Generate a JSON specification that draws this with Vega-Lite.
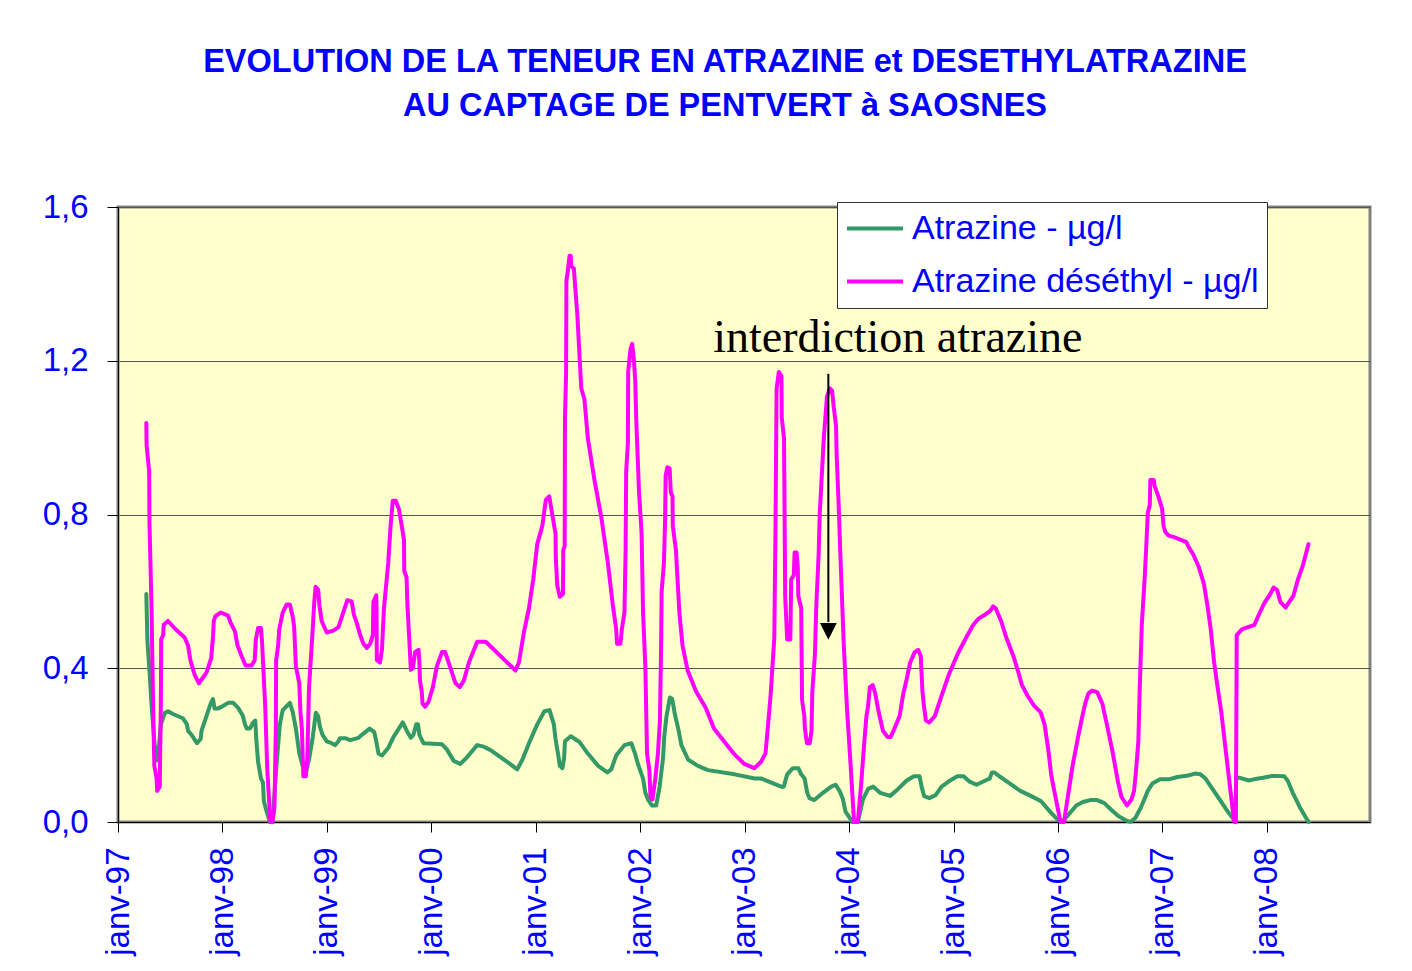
{
  "$schema": "https://vega.github.io/schema/vega-lite/v6.json",
  "width": 1252,
  "height": 615,
  "autosize": {"type": "none"},
  "padding": {"left": 118, "top": 207, "right": 42, "bottom": 149},
  "background": "white",
  "config": {
    "font": "Liberation Sans",
    "view": {"fill": "#FFFFCC", "stroke": "#808080", "strokeWidth": 3},
    "legend": {"strokeWidth": 1}
  },
  "title": {
    "text": ["EVOLUTION DE LA TENEUR EN ATRAZINE et DESETHYLATRAZINE", "AU CAPTAGE DE PENTVERT à SAOSNES"],
    "font": "Liberation Sans",
    "fontSize": 32.5,
    "fontWeight": "bold",
    "color": "#0000FF",
    "lineHeight": 44,
    "anchor": "middle",
    "frame": "group",
    "baseline": "alphabetic",
    "dx": -19,
    "offset": 43
  },
  "datasets": {
    "series": [
      {"date": "1997-04-10", "series": "a", "value": 0.593},
      {"date": "1997-04-14", "series": "a", "value": 0.469},
      {"date": "1997-04-22", "series": "a", "value": 0.383},
      {"date": "1997-04-28", "series": "a", "value": 0.308},
      {"date": "1997-05-09", "series": "a", "value": 0.2},
      {"date": "1997-05-20", "series": "a", "value": 0.16},
      {"date": "1997-05-31", "series": "a", "value": 0.254},
      {"date": "1997-06-14", "series": "a", "value": 0.284},
      {"date": "1997-06-25", "series": "a", "value": 0.288},
      {"date": "1997-07-12", "series": "a", "value": 0.281},
      {"date": "1997-08-16", "series": "a", "value": 0.27},
      {"date": "1997-08-30", "series": "a", "value": 0.254},
      {"date": "1997-09-03", "series": "a", "value": 0.237},
      {"date": "1997-09-15", "series": "a", "value": 0.227},
      {"date": "1997-10-04", "series": "a", "value": 0.205},
      {"date": "1997-10-17", "series": "a", "value": 0.216},
      {"date": "1997-10-20", "series": "a", "value": 0.237},
      {"date": "1997-11-06", "series": "a", "value": 0.275},
      {"date": "1997-11-21", "series": "a", "value": 0.308},
      {"date": "1997-11-29", "series": "a", "value": 0.32},
      {"date": "1997-12-05", "series": "a", "value": 0.295},
      {"date": "1997-12-16", "series": "a", "value": 0.295},
      {"date": "1998-01-03", "series": "a", "value": 0.302},
      {"date": "1998-01-21", "series": "a", "value": 0.31},
      {"date": "1998-02-08", "series": "a", "value": 0.31},
      {"date": "1998-02-25", "series": "a", "value": 0.297},
      {"date": "1998-03-13", "series": "a", "value": 0.277},
      {"date": "1998-03-21", "series": "a", "value": 0.254},
      {"date": "1998-03-27", "series": "a", "value": 0.243},
      {"date": "1998-04-07", "series": "a", "value": 0.243},
      {"date": "1998-04-19", "series": "a", "value": 0.259},
      {"date": "1998-04-26", "series": "a", "value": 0.264},
      {"date": "1998-04-30", "series": "a", "value": 0.21},
      {"date": "1998-05-06", "series": "a", "value": 0.156},
      {"date": "1998-05-16", "series": "a", "value": 0.113},
      {"date": "1998-05-23", "series": "a", "value": 0.103},
      {"date": "1998-05-26", "series": "a", "value": 0.054},
      {"date": "1998-06-05", "series": "a", "value": 0.027},
      {"date": "1998-06-16", "series": "a", "value": 0},
      {"date": "1998-06-26", "series": "a", "value": 0},
      {"date": "1998-07-04", "series": "a", "value": 0.092},
      {"date": "1998-07-10", "series": "a", "value": 0.156},
      {"date": "1998-07-15", "series": "a", "value": 0.2},
      {"date": "1998-07-21", "series": "a", "value": 0.254},
      {"date": "1998-07-31", "series": "a", "value": 0.291},
      {"date": "1998-08-25", "series": "a", "value": 0.31},
      {"date": "1998-09-04", "series": "a", "value": 0.286},
      {"date": "1998-09-15", "series": "a", "value": 0.243},
      {"date": "1998-09-27", "series": "a", "value": 0.178},
      {"date": "1998-10-11", "series": "a", "value": 0.14},
      {"date": "1998-10-22", "series": "a", "value": 0.135},
      {"date": "1998-11-01", "series": "a", "value": 0.167},
      {"date": "1998-11-13", "series": "a", "value": 0.221},
      {"date": "1998-11-24", "series": "a", "value": 0.284},
      {"date": "1998-12-02", "series": "a", "value": 0.275},
      {"date": "1998-12-08", "series": "a", "value": 0.248},
      {"date": "1998-12-17", "series": "a", "value": 0.227},
      {"date": "1999-01-01", "series": "a", "value": 0.21},
      {"date": "1999-01-18", "series": "a", "value": 0.205},
      {"date": "1999-01-30", "series": "a", "value": 0.2},
      {"date": "1999-02-11", "series": "a", "value": 0.21},
      {"date": "1999-02-16", "series": "a", "value": 0.218},
      {"date": "1999-03-06", "series": "a", "value": 0.218},
      {"date": "1999-03-24", "series": "a", "value": 0.213},
      {"date": "1999-04-22", "series": "a", "value": 0.219},
      {"date": "1999-05-09", "series": "a", "value": 0.23},
      {"date": "1999-05-31", "series": "a", "value": 0.243},
      {"date": "1999-06-16", "series": "a", "value": 0.234},
      {"date": "1999-06-23", "series": "a", "value": 0.21},
      {"date": "1999-07-01", "series": "a", "value": 0.178},
      {"date": "1999-07-13", "series": "a", "value": 0.173},
      {"date": "1999-08-05", "series": "a", "value": 0.194},
      {"date": "1999-08-22", "series": "a", "value": 0.221},
      {"date": "1999-09-24", "series": "a", "value": 0.259},
      {"date": "1999-10-08", "series": "a", "value": 0.237},
      {"date": "1999-10-22", "series": "a", "value": 0.219},
      {"date": "1999-10-31", "series": "a", "value": 0.227},
      {"date": "1999-11-10", "series": "a", "value": 0.254},
      {"date": "1999-11-16", "series": "a", "value": 0.254},
      {"date": "1999-11-21", "series": "a", "value": 0.227},
      {"date": "1999-12-05", "series": "a", "value": 0.205},
      {"date": "2000-02-08", "series": "a", "value": 0.202},
      {"date": "2000-02-25", "series": "a", "value": 0.189},
      {"date": "2000-03-20", "series": "a", "value": 0.159},
      {"date": "2000-04-12", "series": "a", "value": 0.151},
      {"date": "2000-05-06", "series": "a", "value": 0.169},
      {"date": "2000-06-10", "series": "a", "value": 0.2},
      {"date": "2000-07-03", "series": "a", "value": 0.196},
      {"date": "2000-07-27", "series": "a", "value": 0.187},
      {"date": "2000-09-24", "series": "a", "value": 0.156},
      {"date": "2000-10-22", "series": "a", "value": 0.14},
      {"date": "2000-10-28", "series": "a", "value": 0.137},
      {"date": "2000-11-15", "series": "a", "value": 0.162},
      {"date": "2000-12-08", "series": "a", "value": 0.205},
      {"date": "2001-01-06", "series": "a", "value": 0.254},
      {"date": "2001-01-31", "series": "a", "value": 0.288},
      {"date": "2001-02-18", "series": "a", "value": 0.291},
      {"date": "2001-03-05", "series": "a", "value": 0.254},
      {"date": "2001-03-11", "series": "a", "value": 0.216},
      {"date": "2001-03-22", "series": "a", "value": 0.167},
      {"date": "2001-03-26", "series": "a", "value": 0.146},
      {"date": "2001-04-04", "series": "a", "value": 0.14},
      {"date": "2001-04-10", "series": "a", "value": 0.167},
      {"date": "2001-04-13", "series": "a", "value": 0.21},
      {"date": "2001-05-03", "series": "a", "value": 0.223},
      {"date": "2001-06-03", "series": "a", "value": 0.208},
      {"date": "2001-07-02", "series": "a", "value": 0.178},
      {"date": "2001-08-07", "series": "a", "value": 0.146},
      {"date": "2001-09-08", "series": "a", "value": 0.129},
      {"date": "2001-09-22", "series": "a", "value": 0.137},
      {"date": "2001-10-09", "series": "a", "value": 0.173},
      {"date": "2001-11-07", "series": "a", "value": 0.2},
      {"date": "2001-12-01", "series": "a", "value": 0.205},
      {"date": "2001-12-14", "series": "a", "value": 0.178},
      {"date": "2001-12-24", "series": "a", "value": 0.151},
      {"date": "2002-01-11", "series": "a", "value": 0.113},
      {"date": "2002-01-19", "series": "a", "value": 0.076},
      {"date": "2002-01-28", "series": "a", "value": 0.059},
      {"date": "2002-02-11", "series": "a", "value": 0.043},
      {"date": "2002-02-26", "series": "a", "value": 0.043},
      {"date": "2002-03-10", "series": "a", "value": 0.092},
      {"date": "2002-03-22", "series": "a", "value": 0.167},
      {"date": "2002-03-26", "series": "a", "value": 0.221},
      {"date": "2002-04-03", "series": "a", "value": 0.275},
      {"date": "2002-04-15", "series": "a", "value": 0.324},
      {"date": "2002-04-23", "series": "a", "value": 0.32},
      {"date": "2002-05-02", "series": "a", "value": 0.281},
      {"date": "2002-05-14", "series": "a", "value": 0.243},
      {"date": "2002-05-25", "series": "a", "value": 0.2},
      {"date": "2002-06-18", "series": "a", "value": 0.162},
      {"date": "2002-07-22", "series": "a", "value": 0.146},
      {"date": "2002-08-26", "series": "a", "value": 0.135},
      {"date": "2002-11-27", "series": "a", "value": 0.124},
      {"date": "2003-02-06", "series": "a", "value": 0.113},
      {"date": "2003-03-01", "series": "a", "value": 0.113},
      {"date": "2003-05-09", "series": "a", "value": 0.092},
      {"date": "2003-05-18", "series": "a", "value": 0.092},
      {"date": "2003-05-30", "series": "a", "value": 0.124},
      {"date": "2003-06-19", "series": "a", "value": 0.14},
      {"date": "2003-07-08", "series": "a", "value": 0.14},
      {"date": "2003-07-18", "series": "a", "value": 0.124},
      {"date": "2003-07-30", "series": "a", "value": 0.113},
      {"date": "2003-08-08", "series": "a", "value": 0.076},
      {"date": "2003-08-16", "series": "a", "value": 0.062},
      {"date": "2003-09-02", "series": "a", "value": 0.057},
      {"date": "2003-10-02", "series": "a", "value": 0.076},
      {"date": "2003-10-31", "series": "a", "value": 0.092},
      {"date": "2003-11-15", "series": "a", "value": 0.097},
      {"date": "2003-11-29", "series": "a", "value": 0.081},
      {"date": "2003-12-11", "series": "a", "value": 0.059},
      {"date": "2003-12-20", "series": "a", "value": 0.027},
      {"date": "2004-01-13", "series": "a", "value": 0},
      {"date": "2004-02-01", "series": "a", "value": 0},
      {"date": "2004-02-19", "series": "a", "value": 0.059},
      {"date": "2004-03-08", "series": "a", "value": 0.086},
      {"date": "2004-03-26", "series": "a", "value": 0.092},
      {"date": "2004-04-19", "series": "a", "value": 0.076},
      {"date": "2004-05-24", "series": "a", "value": 0.068},
      {"date": "2004-06-21", "series": "a", "value": 0.086},
      {"date": "2004-07-21", "series": "a", "value": 0.108},
      {"date": "2004-08-15", "series": "a", "value": 0.119},
      {"date": "2004-09-04", "series": "a", "value": 0.119},
      {"date": "2004-09-11", "series": "a", "value": 0.092},
      {"date": "2004-09-20", "series": "a", "value": 0.067},
      {"date": "2004-10-08", "series": "a", "value": 0.062},
      {"date": "2004-10-30", "series": "a", "value": 0.07},
      {"date": "2004-11-20", "series": "a", "value": 0.092},
      {"date": "2004-12-20", "series": "a", "value": 0.108},
      {"date": "2005-01-14", "series": "a", "value": 0.119},
      {"date": "2005-02-05", "series": "a", "value": 0.119},
      {"date": "2005-02-26", "series": "a", "value": 0.105},
      {"date": "2005-03-22", "series": "a", "value": 0.097},
      {"date": "2005-04-22", "series": "a", "value": 0.108},
      {"date": "2005-05-07", "series": "a", "value": 0.113},
      {"date": "2005-05-15", "series": "a", "value": 0.129},
      {"date": "2005-05-23", "series": "a", "value": 0.129},
      {"date": "2005-06-10", "series": "a", "value": 0.119},
      {"date": "2005-07-17", "series": "a", "value": 0.1},
      {"date": "2005-08-22", "series": "a", "value": 0.081},
      {"date": "2005-09-28", "series": "a", "value": 0.068},
      {"date": "2005-11-03", "series": "a", "value": 0.054},
      {"date": "2005-12-04", "series": "a", "value": 0.027},
      {"date": "2005-12-28", "series": "a", "value": 0.008},
      {"date": "2006-01-15", "series": "a", "value": 0},
      {"date": "2006-02-03", "series": "a", "value": 0.016},
      {"date": "2006-03-06", "series": "a", "value": 0.043},
      {"date": "2006-03-29", "series": "a", "value": 0.052},
      {"date": "2006-04-24", "series": "a", "value": 0.057},
      {"date": "2006-05-18", "series": "a", "value": 0.057},
      {"date": "2006-06-12", "series": "a", "value": 0.049},
      {"date": "2006-07-06", "series": "a", "value": 0.032},
      {"date": "2006-07-30", "series": "a", "value": 0.016},
      {"date": "2006-08-24", "series": "a", "value": 0.005},
      {"date": "2006-09-11", "series": "a", "value": 0},
      {"date": "2006-09-29", "series": "a", "value": 0.011},
      {"date": "2006-10-18", "series": "a", "value": 0.038},
      {"date": "2006-11-11", "series": "a", "value": 0.081},
      {"date": "2006-11-27", "series": "a", "value": 0.1},
      {"date": "2006-12-24", "series": "a", "value": 0.111},
      {"date": "2007-01-23", "series": "a", "value": 0.111},
      {"date": "2007-02-23", "series": "a", "value": 0.117},
      {"date": "2007-04-01", "series": "a", "value": 0.121},
      {"date": "2007-04-25", "series": "a", "value": 0.126},
      {"date": "2007-05-14", "series": "a", "value": 0.124},
      {"date": "2007-06-01", "series": "a", "value": 0.113},
      {"date": "2007-06-25", "series": "a", "value": 0.086},
      {"date": "2007-07-20", "series": "a", "value": 0.059},
      {"date": "2007-08-13", "series": "a", "value": 0.032},
      {"date": "2007-09-06", "series": "a", "value": 0.008},
      {"date": "2007-09-13", "series": "a", "value": 0},
      {"date": "2007-09-16", "series": "a", "value": 0.115},
      {"date": "2007-09-29", "series": "a", "value": 0.115},
      {"date": "2007-10-30", "series": "a", "value": 0.108},
      {"date": "2007-11-17", "series": "a", "value": 0.111},
      {"date": "2007-12-19", "series": "a", "value": 0.115},
      {"date": "2008-01-21", "series": "a", "value": 0.12},
      {"date": "2008-03-02", "series": "a", "value": 0.119},
      {"date": "2008-03-14", "series": "a", "value": 0.108},
      {"date": "2008-04-01", "series": "a", "value": 0.076},
      {"date": "2008-04-26", "series": "a", "value": 0.038},
      {"date": "2008-05-26", "series": "a", "value": 0},
      {"date": "1997-04-10", "series": "d", "value": 1.038},
      {"date": "1997-04-11", "series": "d", "value": 0.98},
      {"date": "1997-04-20", "series": "d", "value": 0.912},
      {"date": "1997-04-21", "series": "d", "value": 0.78},
      {"date": "1997-04-28", "series": "d", "value": 0.566},
      {"date": "1997-05-04", "series": "d", "value": 0.297},
      {"date": "1997-05-08", "series": "d", "value": 0.146},
      {"date": "1997-05-16", "series": "d", "value": 0.113},
      {"date": "1997-05-18", "series": "d", "value": 0.081},
      {"date": "1997-05-27", "series": "d", "value": 0.092},
      {"date": "1997-05-31", "series": "d", "value": 0.318},
      {"date": "1997-06-01", "series": "d", "value": 0.475},
      {"date": "1997-06-08", "series": "d", "value": 0.486},
      {"date": "1997-06-10", "series": "d", "value": 0.513},
      {"date": "1997-06-25", "series": "d", "value": 0.523},
      {"date": "1997-07-18", "series": "d", "value": 0.504},
      {"date": "1997-08-22", "series": "d", "value": 0.48},
      {"date": "1997-09-03", "series": "d", "value": 0.459},
      {"date": "1997-09-11", "series": "d", "value": 0.421},
      {"date": "1997-09-26", "series": "d", "value": 0.383},
      {"date": "1997-10-11", "series": "d", "value": 0.361},
      {"date": "1997-11-06", "series": "d", "value": 0.388},
      {"date": "1997-11-23", "series": "d", "value": 0.426},
      {"date": "1997-11-29", "series": "d", "value": 0.48},
      {"date": "1997-12-02", "series": "d", "value": 0.523},
      {"date": "1997-12-08", "series": "d", "value": 0.536},
      {"date": "1997-12-27", "series": "d", "value": 0.545},
      {"date": "1998-01-21", "series": "d", "value": 0.537},
      {"date": "1998-01-30", "series": "d", "value": 0.518},
      {"date": "1998-02-14", "series": "d", "value": 0.496},
      {"date": "1998-02-23", "series": "d", "value": 0.459},
      {"date": "1998-03-09", "series": "d", "value": 0.432},
      {"date": "1998-03-23", "series": "d", "value": 0.407},
      {"date": "1998-04-13", "series": "d", "value": 0.407},
      {"date": "1998-04-24", "series": "d", "value": 0.421},
      {"date": "1998-04-28", "series": "d", "value": 0.475},
      {"date": "1998-05-06", "series": "d", "value": 0.505},
      {"date": "1998-05-16", "series": "d", "value": 0.505},
      {"date": "1998-05-20", "series": "d", "value": 0.464},
      {"date": "1998-05-25", "series": "d", "value": 0.388},
      {"date": "1998-05-31", "series": "d", "value": 0.297},
      {"date": "1998-06-07", "series": "d", "value": 0.135},
      {"date": "1998-06-14", "series": "d", "value": 0.049},
      {"date": "1998-06-18", "series": "d", "value": 0},
      {"date": "1998-06-25", "series": "d", "value": 0},
      {"date": "1998-07-02", "series": "d", "value": 0.038},
      {"date": "1998-07-07", "series": "d", "value": 0.243},
      {"date": "1998-07-08", "series": "d", "value": 0.421},
      {"date": "1998-07-15", "series": "d", "value": 0.459},
      {"date": "1998-07-19", "series": "d", "value": 0.502},
      {"date": "1998-07-31", "series": "d", "value": 0.545},
      {"date": "1998-08-14", "series": "d", "value": 0.566},
      {"date": "1998-08-25", "series": "d", "value": 0.566},
      {"date": "1998-09-04", "series": "d", "value": 0.534},
      {"date": "1998-09-09", "series": "d", "value": 0.507},
      {"date": "1998-09-15", "series": "d", "value": 0.405},
      {"date": "1998-09-27", "series": "d", "value": 0.361},
      {"date": "1998-10-01", "series": "d", "value": 0.286},
      {"date": "1998-10-06", "series": "d", "value": 0.243},
      {"date": "1998-10-11", "series": "d", "value": 0.119},
      {"date": "1998-10-20", "series": "d", "value": 0.119},
      {"date": "1998-10-25", "series": "d", "value": 0.167},
      {"date": "1998-10-31", "series": "d", "value": 0.351},
      {"date": "1998-11-13", "series": "d", "value": 0.502},
      {"date": "1998-11-18", "series": "d", "value": 0.569},
      {"date": "1998-11-23", "series": "d", "value": 0.612},
      {"date": "1998-12-02", "series": "d", "value": 0.604},
      {"date": "1998-12-06", "series": "d", "value": 0.566},
      {"date": "1998-12-14", "series": "d", "value": 0.523},
      {"date": "1999-01-01", "series": "d", "value": 0.493},
      {"date": "1999-01-24", "series": "d", "value": 0.498},
      {"date": "1999-02-11", "series": "d", "value": 0.507},
      {"date": "1999-03-14", "series": "d", "value": 0.577},
      {"date": "1999-03-29", "series": "d", "value": 0.574},
      {"date": "1999-04-06", "series": "d", "value": 0.539},
      {"date": "1999-04-16", "series": "d", "value": 0.518},
      {"date": "1999-04-28", "series": "d", "value": 0.486},
      {"date": "1999-05-09", "series": "d", "value": 0.464},
      {"date": "1999-05-21", "series": "d", "value": 0.453},
      {"date": "1999-06-02", "series": "d", "value": 0.464},
      {"date": "1999-06-11", "series": "d", "value": 0.486},
      {"date": "1999-06-13", "series": "d", "value": 0.572},
      {"date": "1999-06-23", "series": "d", "value": 0.59},
      {"date": "1999-06-24", "series": "d", "value": 0.566},
      {"date": "1999-06-25", "series": "d", "value": 0.421},
      {"date": "1999-07-06", "series": "d", "value": 0.415},
      {"date": "1999-07-13", "series": "d", "value": 0.448},
      {"date": "1999-07-20", "series": "d", "value": 0.556},
      {"date": "1999-08-04", "series": "d", "value": 0.674},
      {"date": "1999-08-12", "series": "d", "value": 0.768},
      {"date": "1999-08-20", "series": "d", "value": 0.836},
      {"date": "1999-08-30", "series": "d", "value": 0.836},
      {"date": "1999-09-10", "series": "d", "value": 0.815},
      {"date": "1999-09-20", "series": "d", "value": 0.771},
      {"date": "1999-09-28", "series": "d", "value": 0.734},
      {"date": "1999-09-29", "series": "d", "value": 0.653},
      {"date": "1999-10-07", "series": "d", "value": 0.637},
      {"date": "1999-10-10", "series": "d", "value": 0.566},
      {"date": "1999-10-17", "series": "d", "value": 0.469},
      {"date": "1999-10-22", "series": "d", "value": 0.396},
      {"date": "1999-10-29", "series": "d", "value": 0.4},
      {"date": "1999-11-06", "series": "d", "value": 0.442},
      {"date": "1999-11-18", "series": "d", "value": 0.448},
      {"date": "1999-11-21", "series": "d", "value": 0.415},
      {"date": "1999-11-23", "series": "d", "value": 0.367},
      {"date": "1999-11-29", "series": "d", "value": 0.34},
      {"date": "1999-12-02", "series": "d", "value": 0.308},
      {"date": "1999-12-11", "series": "d", "value": 0.3},
      {"date": "1999-12-23", "series": "d", "value": 0.313},
      {"date": "2000-01-07", "series": "d", "value": 0.351},
      {"date": "2000-01-21", "series": "d", "value": 0.405},
      {"date": "2000-02-08", "series": "d", "value": 0.442},
      {"date": "2000-02-19", "series": "d", "value": 0.442},
      {"date": "2000-03-02", "series": "d", "value": 0.415},
      {"date": "2000-03-26", "series": "d", "value": 0.361},
      {"date": "2000-04-10", "series": "d", "value": 0.351},
      {"date": "2000-04-24", "series": "d", "value": 0.367},
      {"date": "2000-05-12", "series": "d", "value": 0.415},
      {"date": "2000-06-10", "series": "d", "value": 0.469},
      {"date": "2000-07-10", "series": "d", "value": 0.469},
      {"date": "2000-10-22", "series": "d", "value": 0.394},
      {"date": "2000-11-03", "series": "d", "value": 0.415},
      {"date": "2000-11-21", "series": "d", "value": 0.496},
      {"date": "2000-12-08", "series": "d", "value": 0.556},
      {"date": "2000-12-23", "series": "d", "value": 0.631},
      {"date": "2001-01-06", "series": "d", "value": 0.723},
      {"date": "2001-01-24", "series": "d", "value": 0.771},
      {"date": "2001-02-05", "series": "d", "value": 0.838},
      {"date": "2001-02-17", "series": "d", "value": 0.847},
      {"date": "2001-02-28", "series": "d", "value": 0.798},
      {"date": "2001-03-11", "series": "d", "value": 0.75},
      {"date": "2001-03-12", "series": "d", "value": 0.685},
      {"date": "2001-03-17", "series": "d", "value": 0.615},
      {"date": "2001-03-26", "series": "d", "value": 0.586},
      {"date": "2001-04-06", "series": "d", "value": 0.593},
      {"date": "2001-04-07", "series": "d", "value": 0.707},
      {"date": "2001-04-12", "series": "d", "value": 0.718},
      {"date": "2001-04-13", "series": "d", "value": 1.052},
      {"date": "2001-04-17", "series": "d", "value": 1.171},
      {"date": "2001-04-18", "series": "d", "value": 1.408},
      {"date": "2001-04-23", "series": "d", "value": 1.435},
      {"date": "2001-04-29", "series": "d", "value": 1.473},
      {"date": "2001-05-03", "series": "d", "value": 1.473},
      {"date": "2001-05-05", "series": "d", "value": 1.446},
      {"date": "2001-05-14", "series": "d", "value": 1.44},
      {"date": "2001-05-26", "series": "d", "value": 1.322},
      {"date": "2001-06-09", "series": "d", "value": 1.128},
      {"date": "2001-06-20", "series": "d", "value": 1.1},
      {"date": "2001-07-02", "series": "d", "value": 0.998},
      {"date": "2001-07-25", "series": "d", "value": 0.89},
      {"date": "2001-08-18", "series": "d", "value": 0.793},
      {"date": "2001-09-10", "series": "d", "value": 0.674},
      {"date": "2001-09-27", "series": "d", "value": 0.566},
      {"date": "2001-10-09", "series": "d", "value": 0.502},
      {"date": "2001-10-12", "series": "d", "value": 0.464},
      {"date": "2001-10-24", "series": "d", "value": 0.464},
      {"date": "2001-10-29", "series": "d", "value": 0.502},
      {"date": "2001-11-07", "series": "d", "value": 0.545},
      {"date": "2001-11-11", "series": "d", "value": 0.707},
      {"date": "2001-11-13", "series": "d", "value": 0.912},
      {"date": "2001-11-19", "series": "d", "value": 0.987},
      {"date": "2001-11-20", "series": "d", "value": 1.171},
      {"date": "2001-11-28", "series": "d", "value": 1.23},
      {"date": "2001-12-04", "series": "d", "value": 1.244},
      {"date": "2001-12-10", "series": "d", "value": 1.203},
      {"date": "2001-12-15", "series": "d", "value": 1.144},
      {"date": "2001-12-16", "series": "d", "value": 1.111},
      {"date": "2001-12-19", "series": "d", "value": 1.03},
      {"date": "2001-12-28", "series": "d", "value": 0.858},
      {"date": "2002-01-06", "series": "d", "value": 0.75},
      {"date": "2002-01-11", "series": "d", "value": 0.545},
      {"date": "2002-01-19", "series": "d", "value": 0.405},
      {"date": "2002-01-25", "series": "d", "value": 0.178},
      {"date": "2002-02-02", "series": "d", "value": 0.135},
      {"date": "2002-02-06", "series": "d", "value": 0.065},
      {"date": "2002-02-13", "series": "d", "value": 0.059},
      {"date": "2002-02-23", "series": "d", "value": 0.113},
      {"date": "2002-03-04", "series": "d", "value": 0.178},
      {"date": "2002-03-11", "series": "d", "value": 0.264},
      {"date": "2002-03-15", "series": "d", "value": 0.448},
      {"date": "2002-03-17", "series": "d", "value": 0.599},
      {"date": "2002-03-25", "series": "d", "value": 0.674},
      {"date": "2002-03-29", "series": "d", "value": 0.782},
      {"date": "2002-03-31", "series": "d", "value": 0.901},
      {"date": "2002-04-06", "series": "d", "value": 0.923},
      {"date": "2002-04-14", "series": "d", "value": 0.92},
      {"date": "2002-04-18", "series": "d", "value": 0.858},
      {"date": "2002-04-24", "series": "d", "value": 0.847},
      {"date": "2002-04-25", "series": "d", "value": 0.771},
      {"date": "2002-05-06", "series": "d", "value": 0.707},
      {"date": "2002-05-18", "series": "d", "value": 0.545},
      {"date": "2002-05-29", "series": "d", "value": 0.459},
      {"date": "2002-06-16", "series": "d", "value": 0.394},
      {"date": "2002-07-15", "series": "d", "value": 0.34},
      {"date": "2002-08-18", "series": "d", "value": 0.297},
      {"date": "2002-09-16", "series": "d", "value": 0.243},
      {"date": "2002-10-21", "series": "d", "value": 0.21},
      {"date": "2002-11-24", "series": "d", "value": 0.178},
      {"date": "2002-12-31", "series": "d", "value": 0.151},
      {"date": "2003-02-04", "series": "d", "value": 0.14},
      {"date": "2003-02-27", "series": "d", "value": 0.156},
      {"date": "2003-03-15", "series": "d", "value": 0.178},
      {"date": "2003-03-23", "series": "d", "value": 0.243},
      {"date": "2003-04-02", "series": "d", "value": 0.329},
      {"date": "2003-04-15", "series": "d", "value": 0.48},
      {"date": "2003-04-17", "series": "d", "value": 0.62},
      {"date": "2003-04-19", "series": "d", "value": 0.75},
      {"date": "2003-04-23", "series": "d", "value": 1.128},
      {"date": "2003-05-01", "series": "d", "value": 1.171},
      {"date": "2003-05-10", "series": "d", "value": 1.16},
      {"date": "2003-05-11", "series": "d", "value": 1.052},
      {"date": "2003-05-19", "series": "d", "value": 0.998},
      {"date": "2003-05-21", "series": "d", "value": 0.804},
      {"date": "2003-05-23", "series": "d", "value": 0.588},
      {"date": "2003-05-30", "series": "d", "value": 0.475},
      {"date": "2003-06-10", "series": "d", "value": 0.475},
      {"date": "2003-06-13", "series": "d", "value": 0.631},
      {"date": "2003-06-22", "series": "d", "value": 0.642},
      {"date": "2003-06-25", "series": "d", "value": 0.701},
      {"date": "2003-07-02", "series": "d", "value": 0.701},
      {"date": "2003-07-06", "series": "d", "value": 0.664},
      {"date": "2003-07-08", "series": "d", "value": 0.588},
      {"date": "2003-07-18", "series": "d", "value": 0.556},
      {"date": "2003-07-21", "series": "d", "value": 0.318},
      {"date": "2003-07-29", "series": "d", "value": 0.275},
      {"date": "2003-07-31", "series": "d", "value": 0.243},
      {"date": "2003-08-07", "series": "d", "value": 0.205},
      {"date": "2003-08-17", "series": "d", "value": 0.205},
      {"date": "2003-08-23", "series": "d", "value": 0.237},
      {"date": "2003-08-26", "series": "d", "value": 0.34},
      {"date": "2003-09-04", "series": "d", "value": 0.437},
      {"date": "2003-09-09", "series": "d", "value": 0.566},
      {"date": "2003-09-17", "series": "d", "value": 0.696},
      {"date": "2003-09-21", "series": "d", "value": 0.804},
      {"date": "2003-10-05", "series": "d", "value": 0.998},
      {"date": "2003-10-16", "series": "d", "value": 1.106},
      {"date": "2003-10-26", "series": "d", "value": 1.128},
      {"date": "2003-11-03", "series": "d", "value": 1.122},
      {"date": "2003-11-08", "series": "d", "value": 1.084},
      {"date": "2003-11-17", "series": "d", "value": 1.03},
      {"date": "2003-11-19", "series": "d", "value": 0.955},
      {"date": "2003-11-26", "series": "d", "value": 0.825},
      {"date": "2003-12-02", "series": "d", "value": 0.696},
      {"date": "2003-12-14", "series": "d", "value": 0.459},
      {"date": "2003-12-25", "series": "d", "value": 0.297},
      {"date": "2004-01-07", "series": "d", "value": 0.146},
      {"date": "2004-01-14", "series": "d", "value": 0.059},
      {"date": "2004-01-19", "series": "d", "value": 0},
      {"date": "2004-02-01", "series": "d", "value": 0},
      {"date": "2004-02-12", "series": "d", "value": 0.092},
      {"date": "2004-02-25", "series": "d", "value": 0.221},
      {"date": "2004-03-02", "series": "d", "value": 0.275},
      {"date": "2004-03-08", "series": "d", "value": 0.302},
      {"date": "2004-03-14", "series": "d", "value": 0.351},
      {"date": "2004-03-24", "series": "d", "value": 0.356},
      {"date": "2004-04-02", "series": "d", "value": 0.334},
      {"date": "2004-04-14", "series": "d", "value": 0.286},
      {"date": "2004-04-29", "series": "d", "value": 0.237},
      {"date": "2004-05-15", "series": "d", "value": 0.221},
      {"date": "2004-05-26", "series": "d", "value": 0.221},
      {"date": "2004-06-08", "series": "d", "value": 0.243},
      {"date": "2004-06-26", "series": "d", "value": 0.275},
      {"date": "2004-07-09", "series": "d", "value": 0.334},
      {"date": "2004-07-21", "series": "d", "value": 0.372},
      {"date": "2004-08-02", "series": "d", "value": 0.415},
      {"date": "2004-08-18", "series": "d", "value": 0.442},
      {"date": "2004-08-30", "series": "d", "value": 0.448},
      {"date": "2004-09-08", "series": "d", "value": 0.432},
      {"date": "2004-09-14", "series": "d", "value": 0.34},
      {"date": "2004-09-20", "series": "d", "value": 0.297},
      {"date": "2004-09-26", "series": "d", "value": 0.264},
      {"date": "2004-10-08", "series": "d", "value": 0.259},
      {"date": "2004-10-27", "series": "d", "value": 0.275},
      {"date": "2004-11-20", "series": "d", "value": 0.329},
      {"date": "2004-12-15", "series": "d", "value": 0.383},
      {"date": "2005-01-15", "series": "d", "value": 0.437},
      {"date": "2005-02-14", "series": "d", "value": 0.48},
      {"date": "2005-03-11", "series": "d", "value": 0.513},
      {"date": "2005-03-29", "series": "d", "value": 0.529},
      {"date": "2005-04-22", "series": "d", "value": 0.54},
      {"date": "2005-05-10", "series": "d", "value": 0.55},
      {"date": "2005-05-19", "series": "d", "value": 0.561},
      {"date": "2005-05-28", "series": "d", "value": 0.556},
      {"date": "2005-06-16", "series": "d", "value": 0.523},
      {"date": "2005-07-04", "series": "d", "value": 0.48},
      {"date": "2005-07-29", "series": "d", "value": 0.432},
      {"date": "2005-08-16", "series": "d", "value": 0.388},
      {"date": "2005-08-28", "series": "d", "value": 0.356},
      {"date": "2005-09-16", "series": "d", "value": 0.329},
      {"date": "2005-10-10", "series": "d", "value": 0.302},
      {"date": "2005-11-01", "series": "d", "value": 0.286},
      {"date": "2005-11-15", "series": "d", "value": 0.254},
      {"date": "2005-11-28", "series": "d", "value": 0.189},
      {"date": "2005-12-08", "series": "d", "value": 0.124},
      {"date": "2005-12-16", "series": "d", "value": 0.092},
      {"date": "2005-12-29", "series": "d", "value": 0.043},
      {"date": "2006-01-10", "series": "d", "value": 0},
      {"date": "2006-01-22", "series": "d", "value": 0},
      {"date": "2006-02-03", "series": "d", "value": 0.059},
      {"date": "2006-02-21", "series": "d", "value": 0.146},
      {"date": "2006-03-12", "series": "d", "value": 0.221},
      {"date": "2006-03-24", "series": "d", "value": 0.264},
      {"date": "2006-04-06", "series": "d", "value": 0.308},
      {"date": "2006-04-17", "series": "d", "value": 0.334},
      {"date": "2006-04-30", "series": "d", "value": 0.342},
      {"date": "2006-05-18", "series": "d", "value": 0.338},
      {"date": "2006-06-05", "series": "d", "value": 0.308},
      {"date": "2006-06-24", "series": "d", "value": 0.243},
      {"date": "2006-07-12", "series": "d", "value": 0.178},
      {"date": "2006-07-30", "series": "d", "value": 0.103},
      {"date": "2006-08-11", "series": "d", "value": 0.065},
      {"date": "2006-08-30", "series": "d", "value": 0.043},
      {"date": "2006-09-15", "series": "d", "value": 0.059},
      {"date": "2006-09-24", "series": "d", "value": 0.081},
      {"date": "2006-10-01", "series": "d", "value": 0.135},
      {"date": "2006-10-09", "series": "d", "value": 0.21},
      {"date": "2006-10-14", "series": "d", "value": 0.351},
      {"date": "2006-10-21", "series": "d", "value": 0.513},
      {"date": "2006-10-30", "series": "d", "value": 0.62},
      {"date": "2006-11-05", "series": "d", "value": 0.707},
      {"date": "2006-11-11", "series": "d", "value": 0.804},
      {"date": "2006-11-18", "series": "d", "value": 0.825},
      {"date": "2006-11-20", "series": "d", "value": 0.89},
      {"date": "2006-12-02", "series": "d", "value": 0.89},
      {"date": "2006-12-05", "series": "d", "value": 0.874},
      {"date": "2006-12-18", "series": "d", "value": 0.847},
      {"date": "2006-12-31", "series": "d", "value": 0.815},
      {"date": "2007-01-05", "series": "d", "value": 0.771},
      {"date": "2007-01-11", "series": "d", "value": 0.755},
      {"date": "2007-01-23", "series": "d", "value": 0.745},
      {"date": "2007-02-11", "series": "d", "value": 0.741},
      {"date": "2007-03-07", "series": "d", "value": 0.734},
      {"date": "2007-03-26", "series": "d", "value": 0.728},
      {"date": "2007-04-01", "series": "d", "value": 0.718},
      {"date": "2007-04-19", "series": "d", "value": 0.696},
      {"date": "2007-05-08", "series": "d", "value": 0.664},
      {"date": "2007-05-26", "series": "d", "value": 0.62},
      {"date": "2007-06-07", "series": "d", "value": 0.566},
      {"date": "2007-06-19", "series": "d", "value": 0.502},
      {"date": "2007-07-01", "series": "d", "value": 0.415},
      {"date": "2007-07-13", "series": "d", "value": 0.351},
      {"date": "2007-07-26", "series": "d", "value": 0.286},
      {"date": "2007-08-10", "series": "d", "value": 0.189},
      {"date": "2007-08-22", "series": "d", "value": 0.113},
      {"date": "2007-09-03", "series": "d", "value": 0.038},
      {"date": "2007-09-10", "series": "d", "value": 0},
      {"date": "2007-09-15", "series": "d", "value": 0},
      {"date": "2007-09-18", "series": "d", "value": 0.486},
      {"date": "2007-10-07", "series": "d", "value": 0.502},
      {"date": "2007-11-19", "series": "d", "value": 0.513},
      {"date": "2007-12-01", "series": "d", "value": 0.534},
      {"date": "2007-12-23", "series": "d", "value": 0.569},
      {"date": "2008-01-13", "series": "d", "value": 0.593},
      {"date": "2008-01-25", "series": "d", "value": 0.61},
      {"date": "2008-02-06", "series": "d", "value": 0.604},
      {"date": "2008-02-18", "series": "d", "value": 0.572},
      {"date": "2008-03-07", "series": "d", "value": 0.558},
      {"date": "2008-03-19", "series": "d", "value": 0.572},
      {"date": "2008-04-03", "series": "d", "value": 0.588},
      {"date": "2008-04-19", "series": "d", "value": 0.631},
      {"date": "2008-05-07", "series": "d", "value": 0.669},
      {"date": "2008-05-26", "series": "d", "value": 0.723}
    ],
    "note": [{"date": "2004-06-20", "value": 1.2227, "text": "interdiction atrazine"}],
    "arrow": [{"date": "2003-10-21", "top": 1.166, "bottom": 0.52, "tip": 0.496}]
  },
  "layer": [
    {
      "data": {"name": "series"},
      "mark": {"type": "line", "strokeWidth": 4, "strokeJoin": "round", "strokeCap": "round"},
      "encoding": {
        "x": {
          "field": "date", "type": "temporal",
          "scale": {"domain": [{"year": 1997, "month": 1, "date": 1}, {"year": 2008, "month": 12, "date": 27}], "nice": false},
          "axis": {
            "title": null,
            "tickCount": {"interval": "year", "step": 1},
            "labelExpr": "'janv-' + timeFormat(datum.value, '%y')",
            "labelAngle": 270, "labelAlign": "right", "labelBaseline": "middle",
            "labelFont": "Liberation Sans", "labelFontSize": 33, "labelColor": "#0000FF",
            "labelPadding": 15, "tickSize": 10, "tickColor": "black", "tickWidth": 1,
            "domainColor": "black", "domainWidth": 1, "grid": false,
            "labelOverlap": false, "labelFlush": false
          }
        },
        "y": {
          "field": "value", "type": "quantitative",
          "scale": {"domain": [0, 1.6], "nice": false},
          "axis": {
            "title": null,
            "values": [0, 0.4, 0.8, 1.2, 1.6],
            "labelExpr": "replace(format(datum.value, '.1f'), '.', ',')",
            "labelFont": "Liberation Sans", "labelFontSize": 33, "labelColor": "#0000FF",
            "labelPadding": 19, "tickSize": 11, "tickColor": "black", "tickWidth": 1,
            "domainColor": "black", "domainWidth": 1,
            "grid": true, "gridColor": "#555555", "gridWidth": 1, "gridOpacity": 1
          }
        },
        "color": {
          "field": "series", "type": "nominal",
          "scale": {"domain": ["a", "d"], "range": ["#339966", "#FF00FF"]},
          "legend": {
            "orient": "none", "legendX": 719, "legendY": -5,
            "title": null, "direction": "vertical",
            "fillColor": "white", "strokeColor": "#333333",
            "padding": 8,
            "symbolType": "stroke", "symbolSize": 3136, "symbolStrokeWidth": 4,
            "labelFont": "Liberation Sans", "labelFontSize": 34, "labelColor": "#0000FF",
            "labelOffset": 7, "rowPadding": 16, "clipHeight": 37,
            "labelLimit": 500,
            "labelExpr": "datum.label == 'a' ? 'Atrazine - µg/l' : 'Atrazine déséthyl - µg/l'"
          }
        }
      }
    },
    {
      "data": {"name": "arrow"},
      "mark": {"type": "rule", "color": "black", "strokeWidth": 2},
      "encoding": {
        "x": {"field": "date", "type": "temporal"},
        "y": {"field": "top", "type": "quantitative"},
        "y2": {"field": "bottom"}
      }
    },
    {
      "data": {"name": "arrow"},
      "mark": {"type": "point", "shape": "M-1,-1L1,-1L0,1Z", "size": 280, "filled": true, "color": "black", "opacity": 1, "strokeWidth": 0},
      "encoding": {
        "x": {"field": "date", "type": "temporal"},
        "y": {"field": "tip", "type": "quantitative"}
      }
    },
    {
      "data": {"name": "note"},
      "mark": {"type": "text", "font": "Liberation Serif", "fontSize": 46, "color": "black", "align": "center", "baseline": "alphabetic"},
      "encoding": {
        "x": {"field": "date", "type": "temporal"},
        "y": {"field": "value", "type": "quantitative"},
        "text": {"field": "text"}
      }
    }
  ]
}
